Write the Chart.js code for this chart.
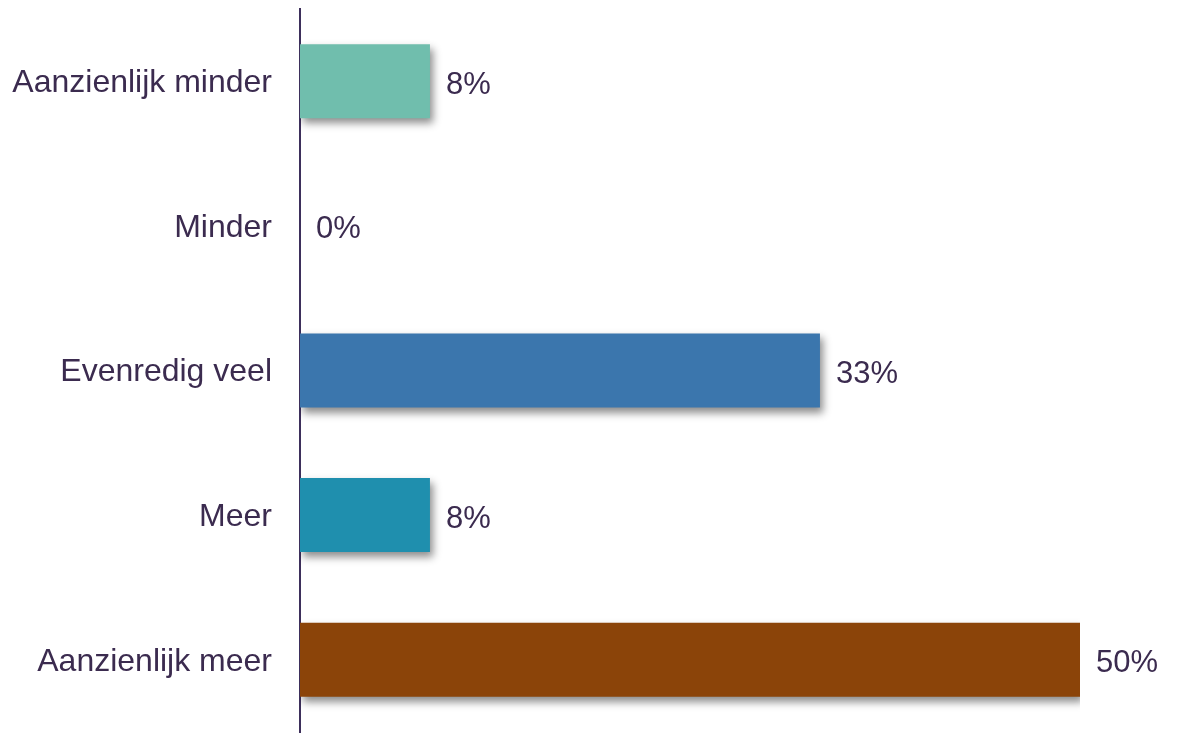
<!DOCTYPE html>
<html>
<head>
<meta charset="utf-8">
<script src="https://cdn.jsdelivr.net/npm/chart.js@4"></script>
<style>
  html, body { margin: 0; padding: 0; background: #fff; }
  #wrap { width: 1178px; height: 737px; }
</style>
</head>
<body>
<div id="wrap"><canvas id="myBarChart"></canvas></div>
<script>
// Categories and values (share of answers, in %)
var categories = ['Aanzienlijk minder', 'Minder', 'Evenredig veel', 'Meer', 'Aanzienlijk meer'];
var values = [8.33, 0, 33.33, 8.33, 50];
var barColors = ['#70BEAD', '#70BEAD', '#3B76AD', '#1F8FAE', '#8B4409'];
var textColor = '#3B2B4F';

// Soft drop shadow under the bars
var shadowPlugin = {
    id: 'barShadow',
    beforeDatasetsDraw: function (chart) {
        var c = chart.ctx;
        c.save();
        c.shadowColor = 'rgba(0,0,0,0.45)';
        c.shadowBlur = 8;
        c.shadowOffsetX = 3;
        c.shadowOffsetY = 5;
    },
    afterDatasetsDraw: function (chart) {
        chart.ctx.restore();
    }
};

// Percent labels to the right of each bar
var valueLabels = {
    id: 'valueLabels',
    afterDraw: function (chart) {
        var c = chart.ctx;
        var meta = chart.getDatasetMeta(0);
        c.save();
        c.font = '31px "Liberation Sans", Arial, sans-serif';
        c.fillStyle = textColor;
        c.textAlign = 'left';
        c.textBaseline = 'middle';
        meta.data.forEach(function (bar, i) {
            c.fillText(Math.round(values[i]) + '%', bar.x + 16, bar.y + 4);
        });
        c.restore();
    }
};

var ctx = document.getElementById('myBarChart').getContext('2d');

var myBarChart = new Chart(ctx, {
    type: 'bar',
    data: {
        labels: categories,
        datasets: [{
            data: values,
            backgroundColor: barColors,
            borderWidth: 0,
            barPercentage: 1,
            categoryPercentage: 0.512
        }]
    },
    options: {
        indexAxis: 'y',
        responsive: true,
        maintainAspectRatio: false,
        animation: false,
        layout: { padding: { top: 9, bottom: 5, right: 98, left: 0 } },
        plugins: {
            legend: { display: false },
            tooltip: { enabled: false }
        },
        scales: {
            x: {
                display: false,
                min: 0,
                max: 50
            },
            y: {
                grid: { display: false, drawTicks: false },
                border: { display: true, color: '#3D2F5B', width: 2 },
                ticks: {
                    padding: 28,
                    labelOffset: 2,
                    color: textColor,
                    font: { family: '"Liberation Sans", Arial, sans-serif', size: 32 }
                },
                afterFit: function (scale) {
                    scale.width = 300;
                    scale.paddingTop = 0;
                    scale.paddingBottom = 0;
                }
            }
        }
    },
    plugins: [shadowPlugin, valueLabels]
});
</script>
</body>
</html>
